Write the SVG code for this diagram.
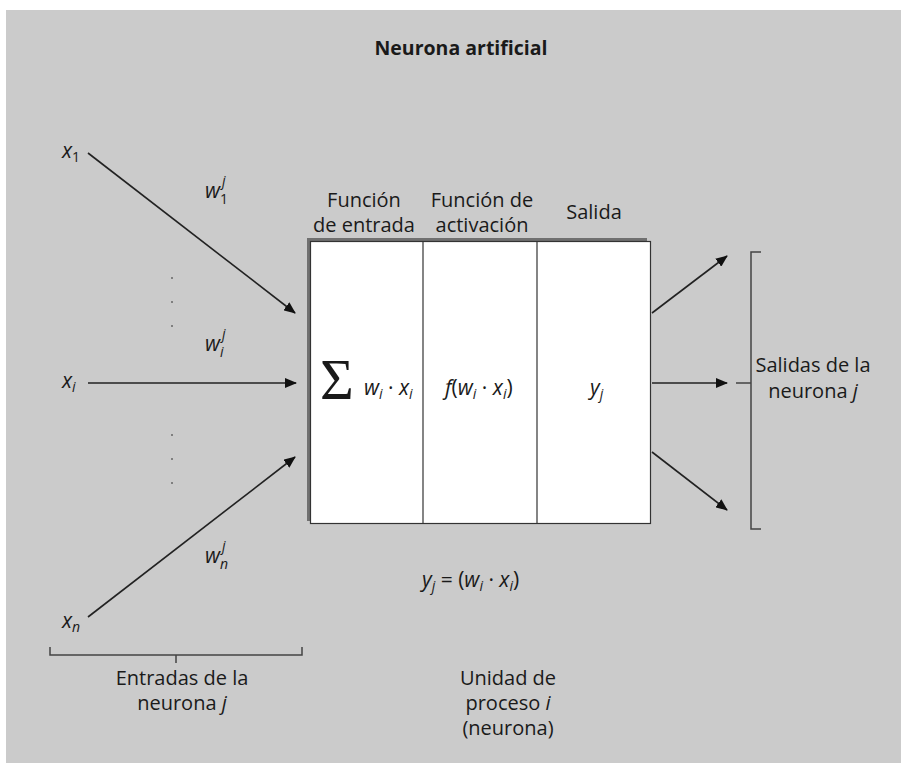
<svg xmlns="http://www.w3.org/2000/svg" width="901" height="763" viewBox="0 0 901 763">
<style>
text{font-family:"Open Sans","Noto Sans","DejaVu Sans",sans-serif;font-size:20px;fill:#1a1a1a}
.t{font-weight:bold;font-size:19.5px}
.i{font-style:italic}
.v{font-style:italic;font-size:21px}
.s{font-size:14px}
.m{text-anchor:middle}
.ln{stroke:#222;stroke-width:1.6;fill:none}
.br{stroke:#444;stroke-width:1.5;fill:none}
.dot{fill:#666}
</style>
<defs>
<marker id="ah" viewBox="0 0 12 10" refX="11" refY="5" markerWidth="12" markerHeight="10" markerUnits="userSpaceOnUse" orient="auto">
<path d="M0,0 L12,5 L0,10 Z" fill="#111"/>
</marker>
</defs>
<rect x="6" y="10" width="895" height="753" fill="#cbcbcb"/>
<text class="t m" x="461" y="55">Neurona artificial</text>

<g id="connectors">
<line class="ln" x1="88" y1="153" x2="295" y2="313" marker-end="url(#ah)"/>
<line class="ln" x1="88" y1="383" x2="296" y2="383" marker-end="url(#ah)"/>
<line class="ln" x1="88" y1="617" x2="295" y2="457" marker-end="url(#ah)"/>
<line class="ln" x1="652" y1="313" x2="727" y2="256" marker-end="url(#ah)"/>
<line class="ln" x1="652" y1="383" x2="727" y2="383" marker-end="url(#ah)"/>
<line class="ln" x1="652" y1="452" x2="727" y2="510" marker-end="url(#ah)"/>
</g>

<g id="inputs">
<text class="v" x="62" y="158">x<tspan class="s" font-style="normal" dy="4">1</tspan></text>
<text class="v" x="62" y="388">x<tspan class="s" dy="4">i</tspan></text>
<text class="v" x="62" y="628">x<tspan class="s" dy="4">n</tspan></text>
<circle class="dot" cx="172" cy="278" r="1"/>
<circle class="dot" cx="172" cy="302" r="1"/>
<circle class="dot" cx="172" cy="326" r="1"/>
<circle class="dot" cx="172" cy="435" r="1"/>
<circle class="dot" cx="172" cy="459" r="1"/>
<circle class="dot" cx="172" cy="483" r="1"/>
</g>

<g id="weights">
<text class="v" x="205" y="198">w</text><text class="i s" x="222" y="186">j</text><text class="s" x="220" y="204">1</text>
<text class="v" x="205" y="351">w</text><text class="i s" x="222" y="339">j</text><text class="i s" x="220" y="357">i</text>
<text class="v" x="205" y="563">w</text><text class="i s" x="222" y="551">j</text><text class="i s" x="220" y="569">n</text>
</g>

<g id="unit">
<rect x="307" y="238" width="340" height="283" fill="#707070"/>
<rect x="310.5" y="241.5" width="340" height="282" fill="#ffffff" stroke="#333" stroke-width="1.2"/>
<line x1="423" y1="242" x2="423" y2="523" stroke="#333" stroke-width="1.2"/>
<line x1="537" y1="242" x2="537" y2="523" stroke="#333" stroke-width="1.2"/>
<text class="m" x="364" y="207">Función</text>
<text class="m" x="364" y="232">de entrada</text>
<text class="m" x="482" y="207">Función de</text>
<text class="m" x="482" y="232">activación</text>
<text class="m" x="594" y="219">Salida</text>
<text x="320" y="399" style="font-family:'Liberation Serif','DejaVu Serif',serif;font-size:58px">Σ</text>
<text class="v" x="364" y="395">w<tspan class="s" dy="4">i</tspan><tspan font-style="normal" dy="-4"> · </tspan>x<tspan class="s" dy="4">i</tspan></text>
<text class="v" x="445" y="395">f<tspan font-style="normal">(</tspan>w<tspan class="s" dy="4">i</tspan><tspan font-style="normal" dy="-4"> · </tspan>x<tspan class="s" dy="4">i</tspan><tspan font-style="normal" dy="-4">)</tspan></text>
<text class="v" x="590" y="395">y<tspan class="s" dy="4">j</tspan></text>
<text class="v" x="422" y="587">y<tspan class="s" dy="4">j</tspan><tspan font-style="normal" dy="-4"> = (</tspan>w<tspan class="s" dy="4">i</tspan><tspan font-style="normal" dy="-4"> · </tspan>x<tspan class="s" dy="4">i</tspan><tspan font-style="normal" dy="-4">)</tspan></text>
<text class="m" x="508" y="685">Unidad de</text>
<text class="m" x="508" y="710">proceso <tspan class="i">i</tspan></text>
<text class="m" x="508" y="735">(neurona)</text>
</g>

<g id="inputs-bracket">
<path class="br" d="M50,647 V655 H302 V647 M176,655 V663"/>
<text class="m" x="182" y="685">Entradas de la</text>
<text class="m" x="182" y="710">neurona <tspan class="i">j</tspan></text>
</g>

<g id="outputs-bracket">
<path class="br" d="M761,252 H751 V529 H761 M736,383 H751"/>
<text class="m" x="813" y="372">Salidas de la</text>
<text class="m" x="813" y="398">neurona <tspan class="i">j</tspan></text>
</g>
</svg>
